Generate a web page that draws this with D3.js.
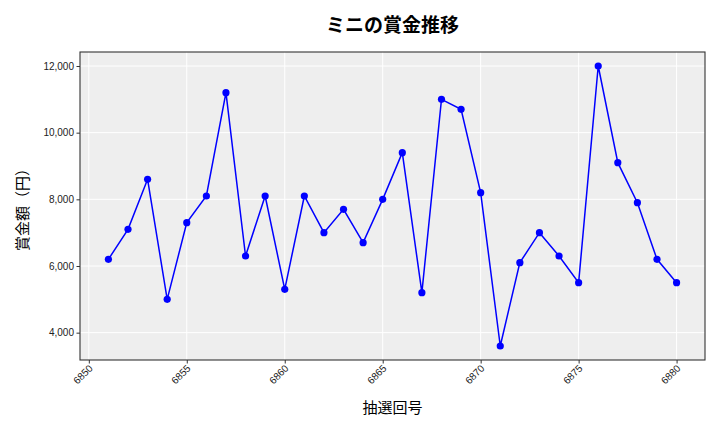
<!DOCTYPE html>
<html>
<head>
<meta charset="utf-8">
<script src="https://cdn.jsdelivr.net/npm/d3@7"></script>
<style>
body{margin:0;background:#fff;}
svg{display:block;font-family:"Noto Sans CJK JP","Noto Sans",sans-serif;}
</style>
</head>
<body>
<svg id="chart" width="720" height="432"></svg>
<script>
const draws = [6851,6852,6853,6854,6855,6856,6857,6858,6859,6860,6861,6862,6863,6864,6865,6866,6867,6868,6869,6870,6871,6872,6873,6874,6875,6876,6877,6878,6879,6880];
const prizes = [6200,7100,8600,5000,7300,8100,11200,6300,8100,5300,8100,7000,7700,6700,8000,9400,5200,11000,10700,8200,3600,6100,7000,6300,5500,12000,9100,7900,6200,5500];
const xTicks = [6850,6855,6860,6865,6870,6875,6880];
const yTicks = [4000,6000,8000,10000,12000];
const title = "ミニの賞金推移";
const xLabel = "抽選回号";
const yLabel = "賞金額（円）";

const svg = d3.select("#chart");
const m = {left:80, right:705, top:52, bottom:360};

const xMin = d3.min(draws), xMax = d3.max(draws);
const xPad = (xMax - xMin) * 0.05;
const yMin = d3.min(prizes), yMax = d3.max(prizes);
const yPad = (yMax - yMin) * 0.05;

const x = d3.scaleLinear().domain([xMin - xPad, xMax + xPad]).range([m.left, m.right]);
const y = d3.scaleLinear().domain([yMin - yPad, yMax + yPad]).range([m.bottom, m.top]);

svg.append("rect").attr("x", m.left).attr("y", m.top)
  .attr("width", m.right - m.left).attr("height", m.bottom - m.top)
  .attr("fill", "#eeeeee");

// grid
svg.append("g").selectAll("line").data(xTicks).join("line")
  .attr("x1", d => x(d)).attr("x2", d => x(d))
  .attr("y1", m.top).attr("y2", m.bottom)
  .attr("stroke", "#ffffff").attr("stroke-width", 1);
svg.append("g").selectAll("line").data(yTicks).join("line")
  .attr("x1", m.left).attr("x2", m.right)
  .attr("y1", d => y(d)).attr("y2", d => y(d))
  .attr("stroke", "#ffffff").attr("stroke-width", 1);

// axes
const xAxis = svg.append("g").attr("transform", `translate(0,${m.bottom})`)
  .call(d3.axisBottom(x).tickValues(xTicks).tickFormat(d3.format("d")).tickSize(3.5).tickSizeOuter(0));
xAxis.select(".domain").remove();
xAxis.selectAll(".tick line").attr("stroke", "#333");
xAxis.selectAll(".tick text")
  .attr("font-size", 10).attr("fill", "#222")
  .attr("text-anchor", "end")
  .attr("dy", null).attr("y", 0)
  .attr("transform", "translate(4,9) rotate(-45)");

const yAxis = svg.append("g").attr("transform", `translate(${m.left},0)`)
  .call(d3.axisLeft(y).tickValues(yTicks).tickFormat(d3.format(",")).tickSize(3.5).tickSizeOuter(0));
yAxis.select(".domain").remove();
yAxis.selectAll(".tick line").attr("stroke", "#333");
yAxis.selectAll(".tick text").attr("font-size", 10).attr("fill", "#222").attr("x", -6);

// frame
svg.append("rect").attr("x", m.left).attr("y", m.top)
  .attr("width", m.right - m.left).attr("height", m.bottom - m.top)
  .attr("fill", "none").attr("stroke", "#333").attr("stroke-width", 1.1);

// line
const line = d3.line().x((d, i) => x(draws[i])).y(d => y(d));
svg.append("path").datum(prizes).attr("d", line)
  .attr("fill", "none").attr("stroke", "#0000ff").attr("stroke-width", 1.5);
svg.append("g").selectAll("circle").data(prizes).join("circle")
  .attr("cx", (d, i) => x(draws[i])).attr("cy", d => y(d))
  .attr("r", 3.6).attr("fill", "#0000ff");

// labels
svg.append("text").attr("x", (m.left + m.right) / 2).attr("y", 32)
  .attr("text-anchor", "middle").attr("font-size", 19).attr("font-weight", "bold")
  .attr("fill", "#000").text(title);
svg.append("text").attr("x", (m.left + m.right) / 2).attr("y", 413)
  .attr("text-anchor", "middle").attr("font-size", 15).attr("fill", "#000").text(xLabel);
svg.append("text").attr("transform", `translate(28,${(m.top + m.bottom) / 2}) rotate(-90)`)
  .attr("text-anchor", "middle").attr("font-size", 15).attr("fill", "#000").text(yLabel);
</script>
</body>
</html>
